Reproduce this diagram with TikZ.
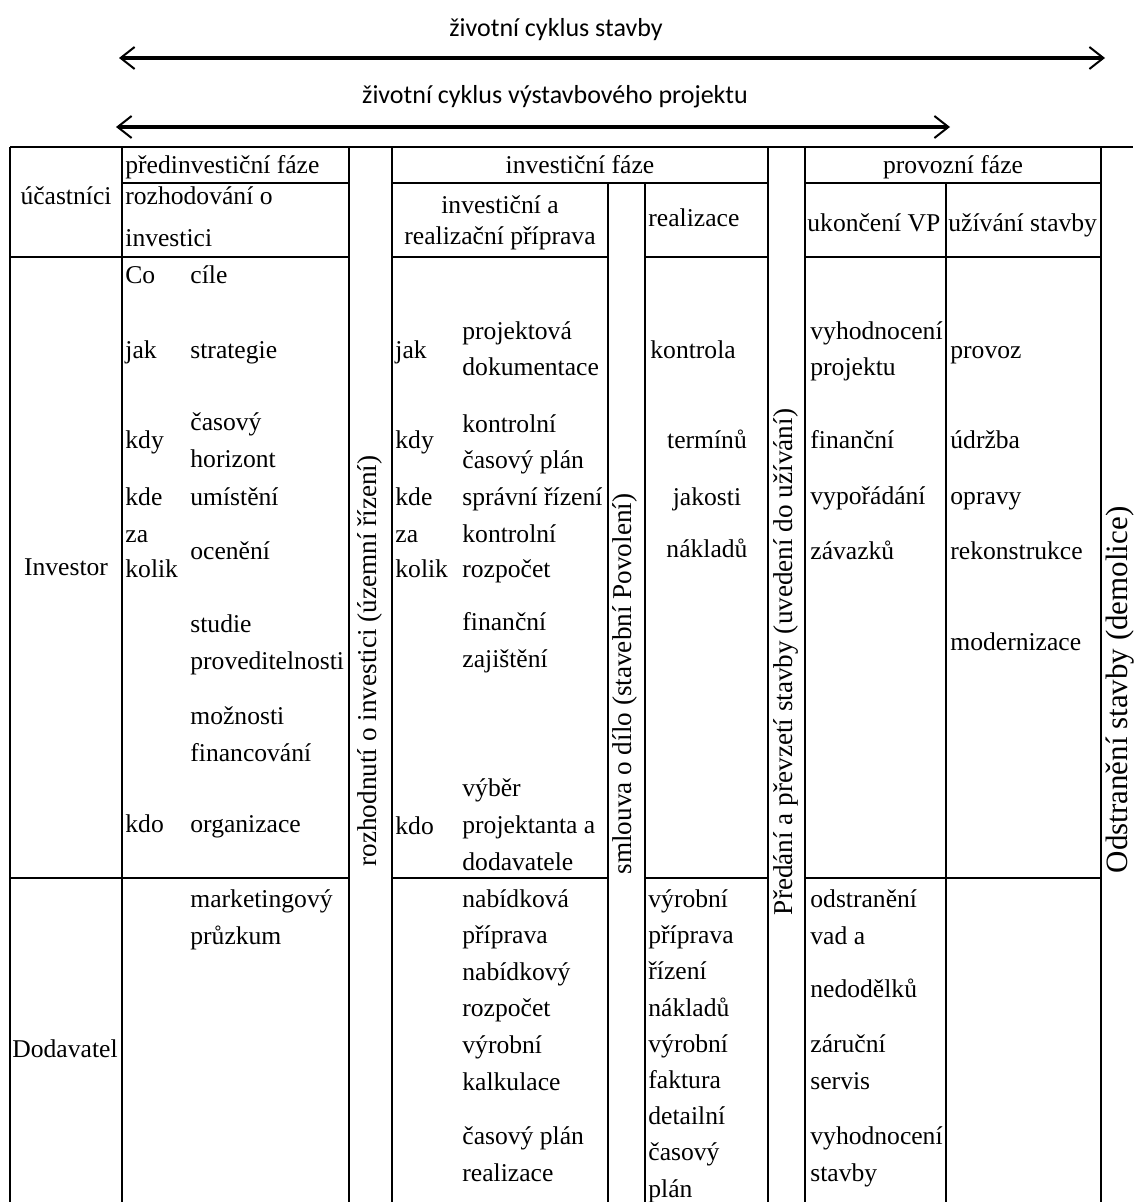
\documentclass[tikz,border=0pt]{standalone}
\usepackage{fontspec}
\setmainfont{Liberation Serif}
\newfontfamily\calfont{Carlito}
\usetikzlibrary{arrows.meta}
\tikzset{
txt/.style={ % left aligned cell text, placed by its last baseline
anchor=base west, inner sep=0pt, align=left,
font=\fontsize{12.8}{18.3}\selectfont},
ctxt/.style={txt, anchor=base, align=center},
rot/.style={ % rotated milestone text
rotate=90, inner sep=0pt,
font=\fontsize{13.6}{16}\selectfont},
grid/.style={line width=1pt},
span/.style={ % life cycle arrows
line width=1.9pt, <->,
>={Straight Barb[length=7pt,width=11pt,line width=1pt]}},
title/.style={inner sep=0pt, font=\calfont\fontsize{13}{15}\selectfont}}

\begin{document}
\begin{tikzpicture}[x=0.5pt,y=-0.5pt]
	\useasboundingbox (0,0) rectangle (1133,1202);
	% life cycle arrows
	\node[title] (t1) at (556,30) {životní cyklus stavby};
	\node[title] (t2) at (555,97) {životní cyklus výstavbového projektu};
	\coordinate (s1) at (119,58);
	\coordinate (s2) at (1105,58);
	\coordinate (p1) at (116,127);
	\coordinate (p2) at (950,127);
	\draw[span] (s1) -- (s2);
	\draw[span] (p1) -- (p2);
	% table grid
	\draw[grid] (10,147) -- (1133,147);
	\draw[grid] (122,183) -- (349,183) (392,183) -- (768,183) (805,183) -- (1101,183);
	\foreach \y in {257,878}
		\draw[grid] (10,\y) -- (349,\y) (392,\y) -- (608,\y) (645,\y) -- (768,\y) (805,\y) -- (1101,\y);
	\foreach \x in {10,122,349,392,768,805,1101}
		\draw[grid] (\x,147) -- (\x,1202);
	\foreach \x in {608,645,946}
		\draw[grid] (\x,183) -- (\x,1202);
	% header
	\node[ctxt] (hA) at (66,205) {účastníci};
	\node[txt] (hB1) at (125,174) {předinvestiční fáze};
	\node[txt, font=\fontsize{12.8}{21}\selectfont] (hB2) at (125,247) {rozhodování o\\investici};
	\node[ctxt] (hC1) at (580,174) {investiční fáze};
	\node[ctxt, font=\fontsize{12.8}{15.5}\selectfont] (hC2) at (500,245) {investiční a\\realizační příprava};
	\node[txt] (hD) at (648,227) {realizace};
	\node[ctxt] (hEF) at (953,174) {provozní fáze};
	\node[txt] (hE) at (807,232) {ukončení VP};
	\node[txt] (hF) at (948,232) {užívání stavby};
	% investor
	\node[ctxt] (inv) at (66,575) {Investor};
	\node[txt] (b1) at (125,284) {Co};
	\node[txt] (b1t) at (190,284) {cíle};
	\node[txt] (b2) at (125,359) {jak};
	\node[txt] (b2t) at (190,359) {strategie};
	\node[txt] (b3) at (125,449) {kdy};
	\node[txt] (b3t) at (190,467) {časový\\horizont};
	\node[txt] (b4) at (125,505) {kde};
	\node[txt] (b4t) at (190,505) {umístění};
	\node[txt, font=\fontsize{12.8}{17.5}\selectfont] (b5) at (125,577) {za\\kolik};
	\node[txt] (b5t) at (190,559) {ocenění};
	\node[txt] (b6t) at (190,669) {studie\\proveditelnosti};
	\node[txt] (b7t) at (190,761) {možnosti\\financování};
	\node[txt] (b8) at (125,832) {kdo};
	\node[txt] (b8t) at (190,832) {organizace};
	\node[txt] (c2) at (395,359) {jak};
	\node[txt] (c2t) at (462,376) {projektová\\dokumentace};
	\node[txt] (c3) at (395,449) {kdy};
	\node[txt] (c3t) at (462,469) {kontrolní\\časový plán};
	\node[txt] (c4) at (395,505) {kde};
	\node[txt] (c4t) at (462,505) {správní řízení};
	\node[txt, font=\fontsize{12.8}{17.5}\selectfont] (c5) at (395,577) {za\\kolik};
	\node[txt, font=\fontsize{12.8}{17.5}\selectfont] (c5t) at (462,577) {kontrolní\\rozpočet};
	\node[txt] (c6t) at (462,667) {finanční\\zajištění};
	\node[txt] (c8) at (395,834) {kdo};
	\node[txt] (c8t) at (462,870) {výběr\\projektanta a\\dodavatele};
	\node[txt] (d2) at (650,359) {kontrola};
	\node[ctxt] (d3) at (707,449) {termínů};
	\node[ctxt] (d4) at (707,505) {jakosti};
	\node[ctxt] (d5) at (707,557) {nákladů};
	\node[txt] (e2) at (810,376) {vyhodnocení\\projektu};
	\node[txt] (e3) at (810,449) {finanční};
	\node[txt] (e4) at (810,504) {vypořádání};
	\node[txt] (e5) at (810,559) {závazků};
	\node[txt] (f2) at (950,359) {provoz};
	\node[txt] (f3) at (950,449) {údržba};
	\node[txt] (f4) at (950,504) {opravy};
	\node[txt] (f5) at (950,559) {rekonstrukce};
	\node[txt] (f6) at (950,650) {modernizace};
	% dodavatel
	\node[ctxt] (dod) at (65,1057) {Dodavatel};
	\node[txt] (bd1) at (190,944) {marketingový\\průzkum};
	\node[txt] (cd1) at (462,1090) {nabídková\\příprava\\nabídkový\\rozpočet\\výrobní\\kalkulace};
	\node[txt] (cd2) at (462,1181) {časový plán\\realizace};
	\node[txt, font=\fontsize{12.8}{18.1}\selectfont] (dd1) at (648,1197) {výrobní\\příprava\\řízení\\nákladů\\výrobní\\faktura\\detailní\\časový\\plán};
	\node[txt] (ed1) at (810,944) {odstranění\\vad a};
	\node[txt] (ed2) at (810,997) {nedodělků};
	\node[txt] (ed3) at (810,1089) {záruční\\servis};
	\node[txt] (ed4) at (810,1181) {vyhodnocení\\stavby};
	% milestones
	\node[rot] (r1) at (370,661) {rozhodnutí o investici (územní řízení)};
	\node[rot] (r2) at (625,684) {smlouva o dílo (stavební Povolení)};
	\node[rot] (r3) at (786,662) {Předání a převzetí stavby (uvedení do užívání)};
	\node[rot, font=\fontsize{15.5}{18}\selectfont] (r4) at (1120,690) {Odstranění stavby (demolice)};
\end{tikzpicture}
\end{document}
